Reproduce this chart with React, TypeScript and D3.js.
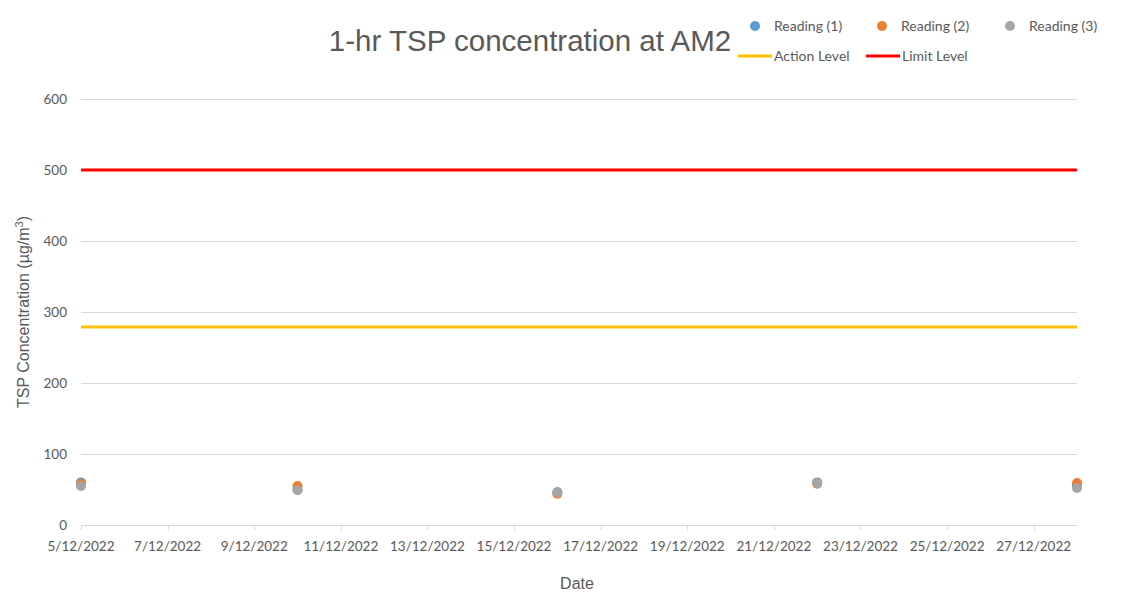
import { useRef, useEffect } from 'react';
import * as d3 from 'd3';

const dates = ['2022-12-05', '2022-12-10', '2022-12-16', '2022-12-22', '2022-12-28'];
const reading1 = [60, 50, 46, 60, 56];
const reading2 = [58, 55, 44, 58, 59];
const reading3 = [55, 49, 46, 59, 52];
const actionLevel = 279;
const limitLevel = 500;
const yTicks = [0, 100, 200, 300, 400, 500, 600];
const seriesNames = ['Reading (1)', 'Reading (2)', 'Reading (3)'];
const seriesColors = ['#5b9bd5', '#ed7d31', '#a5a5a5'];

function App() {
  const ref = useRef<SVGSVGElement>(null);

  useEffect(() => {
    const svg = d3.select(ref.current);
    svg.selectAll('*').remove();
    const width = 1139;
    const height = 600;
    const margin = { left: 81, right: 62, top: 99, bottom: 75 };

    const parse = d3.timeParse('%Y-%m-%d');
    const x = d3.scaleTime()
      .domain([parse('2022-12-05')!, parse('2022-12-28')!])
      .range([margin.left, width - margin.right]);
    const y = d3.scaleLinear().domain([0, 600]).range([height - margin.bottom, margin.top]);

    svg.append('rect')
      .attr('x', 7.5).attr('y', 0.5)
      .attr('width', width - 15).attr('height', height)
      .attr('fill', 'white').attr('stroke', '#d9d9d9');

    // grid
    svg.append('g').selectAll('line')
      .data(yTicks.filter(d => d > 0))
      .join('line')
      .attr('x1', margin.left).attr('x2', width - margin.right)
      .attr('y1', d => Math.round(y(d)) + 0.5).attr('y2', d => Math.round(y(d)) + 0.5)
      .attr('stroke', '#d9d9d9');

    // y labels
    svg.append('g').selectAll('text')
      .data(yTicks)
      .join('text')
      .attr('x', 67).attr('y', d => y(d))
      .attr('dy', '0.35em')
      .attr('text-anchor', 'end')
      .attr('font-family', 'Lato, "Liberation Sans", sans-serif')
      .attr('font-size', 13.5)
      .attr('fill', '#595959')
      .text(d => d);

    // x axis
    const xTicks = d3.timeDay.range(parse('2022-12-05')!, parse('2022-12-29')!, 2);
    const y0 = Math.round(y(0)) + 0.5;
    svg.append('line')
      .attr('x1', margin.left).attr('x2', width - margin.right)
      .attr('y1', y0).attr('y2', y0)
      .attr('stroke', '#d9d9d9');
    svg.append('g').selectAll('line')
      .data(xTicks)
      .join('line')
      .attr('x1', d => Math.round(x(d)) + 0.5).attr('x2', d => Math.round(x(d)) + 0.5)
      .attr('y1', y0).attr('y2', y0 + 5)
      .attr('stroke', '#d9d9d9');
    svg.append('g').selectAll('text')
      .data(xTicks)
      .join('text')
      .attr('x', d => x(d)).attr('y', 551)
      .attr('text-anchor', 'middle')
      .attr('font-family', 'Lato, "Liberation Sans", sans-serif')
      .attr('font-size', 13.5)
      .attr('fill', '#595959')
      .text(d => d3.timeFormat('%-d/%m/%Y')(d));

    // level lines
    svg.append('line')
      .attr('x1', margin.left).attr('x2', width - margin.right)
      .attr('y1', y(actionLevel)).attr('y2', y(actionLevel))
      .attr('stroke', '#ffc000').attr('stroke-width', 3);
    svg.append('line')
      .attr('x1', margin.left).attr('x2', width - margin.right)
      .attr('y1', y(limitLevel)).attr('y2', y(limitLevel))
      .attr('stroke', '#ff0000').attr('stroke-width', 3);

    // points
    [reading1, reading2, reading3].forEach((vals, i) => {
      svg.append('g').selectAll('circle')
        .data(vals)
        .join('circle')
        .attr('cx', (_, j) => x(parse(dates[j])!))
        .attr('cy', d => y(d))
        .attr('r', 5)
        .attr('fill', seriesColors[i]);
    });

    // titles
    svg.append('text')
      .attr('x', 530).attr('y', 51)
      .attr('text-anchor', 'middle')
      .attr('font-family', '"Liberation Sans", Arial, sans-serif')
      .attr('font-size', 29.5)
      .attr('fill', '#595959')
      .text('1-hr TSP concentration at AM2');
    svg.append('text')
      .attr('x', 577).attr('y', 589)
      .attr('text-anchor', 'middle')
      .attr('font-family', '"Liberation Sans", Arial, sans-serif')
      .attr('font-size', 16)
      .attr('fill', '#595959')
      .text('Date');
    const yt = svg.append('text')
      .attr('transform', 'translate(29,312) rotate(-90)')
      .attr('text-anchor', 'middle')
      .attr('font-family', '"Liberation Sans", Arial, sans-serif')
      .attr('font-size', 16)
      .attr('fill', '#595959');
    yt.append('tspan').text('TSP Concentration (µg/m');
    yt.append('tspan').attr('font-size', 11).attr('dy', -6).text('3');
    yt.append('tspan').attr('dy', 6).text(')');

    // legend
    const lg = svg.append('g')
      .attr('font-family', 'Lato, "Liberation Sans", sans-serif')
      .attr('font-size', 14)
      .attr('fill', '#595959');
    const legX = [755, 882, 1010];
    seriesNames.forEach((name, i) => {
      lg.append('circle').attr('cx', legX[i]).attr('cy', 26).attr('r', 5).attr('fill', seriesColors[i]);
      lg.append('text').attr('x', legX[i] + 19).attr('y', 26).attr('dy', '0.35em').text(name);
    });
    const lineLeg = [
      { name: 'Action Level', color: '#ffc000', x: 738 },
      { name: 'Limit Level', color: '#ff0000', x: 866 },
    ];
    lineLeg.forEach(l => {
      lg.append('line').attr('x1', l.x).attr('x2', l.x + 34).attr('y1', 56).attr('y2', 56)
        .attr('stroke', l.color).attr('stroke-width', 3);
      lg.append('text').attr('x', l.x + 36).attr('y', 56).attr('dy', '0.35em').text(l.name);
    });
  }, []);

  return (
    <div style={{ margin: -8 }}>
      <svg ref={ref} width={1139} height={600} style={{ display: 'block' }} />
    </div>
  );
}

export default App;
